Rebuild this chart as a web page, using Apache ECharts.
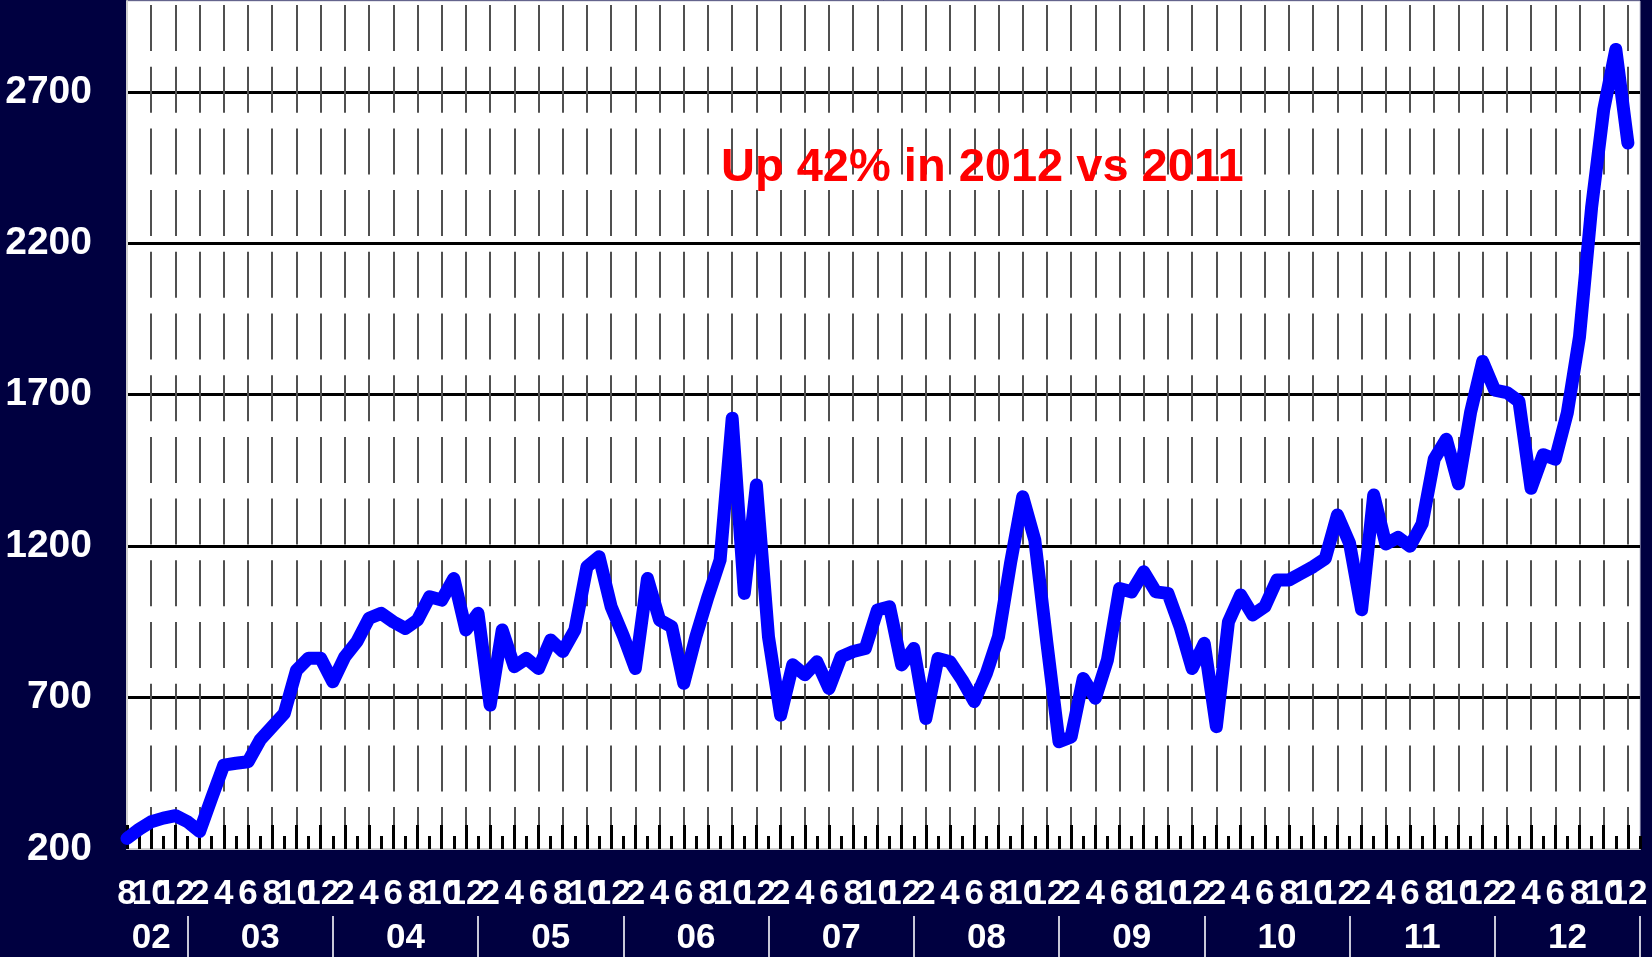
<!DOCTYPE html>
<html>
<head>
    <meta charset="utf-8">
    <title>index</title>
    <style>
        html, body { margin: 0; padding: 0; background: #000040; }
        #container { width: 1652px; height: 957px; }
    </style>
</head>
<body>
    <div id="container"></div>
</body>
<script src="https://cdn.jsdelivr.net/npm/echarts@6/dist/echarts.min.js"></script>
<script type="text/javascript">
    var dom = document.getElementById("container");
    var myChart = echarts.init(dom);

    // monthly values, Aug 2002 .. Dec 2012
    var values = [
        235, 265, 290, 302, 310,                                   // 2002 (8-12)
        290, 258, 369, 477, 483, 488, 560, 604, 648, 790, 830, 830, // 2003
        752, 835, 885, 962, 978, 950, 928, 956, 1033, 1022, 1093, 923, // 2004
        978, 675, 923, 802, 829, 796, 890, 852, 923, 1132, 1165, 1000, // 2005
        904, 796, 1093, 956, 934, 747, 901, 1033, 1154, 1622, 1044, 1402, // 2006
        900, 642, 808, 775, 818, 730, 835, 852, 862, 989, 1000, 808, // 2007
        862, 631, 829, 818, 758, 687, 780, 901, 1145, 1363, 1220, 880, // 2008
        554, 570, 763, 698, 824, 1060, 1049, 1115, 1049, 1044, 934, 796, // 2009
        879, 604, 950, 1039, 973, 1000, 1088, 1088, 1110, 1132, 1159, 1303, // 2010
        1210, 990, 1369, 1207, 1229, 1200, 1274, 1487, 1553, 1406, 1641, 1810, // 2011
        1715, 1707, 1678, 1391, 1502, 1487, 1641, 1891, 2318, 2641, 2840, 2531  // 2012
    ];
    var years = ['02', '03', '04', '05', '06', '07', '08', '09', '10', '11', '12'];
    var startMonth = 8;
    var yTicks = [200, 700, 1200, 1700, 2200, 2700];
    var note = 'Up 42% in 2012 vs 2011';

    // categories: one per month, plus Jan 13 as right edge
    var cats = [];
    years.forEach(function (y, yi) {
        for (var m = (yi === 0 ? startMonth : 1); m <= 12; m++) {
            cats.push({ y: y, m: m });
        }
    });
    cats.push({ y: '13', m: 1 });
    var catNames = cats.map(function (c) { return c.y + '-' + c.m; });

    var font = 'Liberation Sans';

    function monthOf(idx) { return cats[idx].m; }

    var monthLabel = {
        formatter: function (v, idx) { return String(monthOf(idx)); },
        showMinLabel: true,
        showMaxLabel: true,
        hideOverlap: false,
        color: '#fff',
        fontFamily: font,
        fontWeight: 'bold',
        fontSize: 35,
        margin: 28
    };

    option = {
        backgroundColor: '#000040',
        animation: false,
        grid: {
            left: 127,
            right: 12,
            top: 1,
            bottom: 108,
            outerBoundsMode: 'none',
            show: true,
            backgroundColor: '#ffffff',
            borderColor: '#c8c8d8',
            borderWidth: 1
        },
        title: {
            text: note,
            left: 721,
            top: 145,
            textStyle: {
                color: '#ff0000',
                fontFamily: font,
                fontWeight: 'bold',
                fontSize: 47
            },
            padding: 0
        },
        xAxis: [{
            // months: short ticks, labels 2/6/10, dashed grid
            type: 'category',
            data: catNames,
            boundaryGap: false,
            position: 'bottom',
            axisLine: { show: true, lineStyle: { color: '#d0d0d0', width: 2 } },
            axisTick: {
                show: true, inside: true, length: 13, interval: 0,
                lineStyle: { color: '#000', width: 3 }
            },
            axisLabel: Object.assign({
                interval: function (idx) { return monthOf(idx) % 4 === 2; }
            }, monthLabel),
            splitLine: {
                show: true,
                interval: function (idx) { return idx > 0 && monthOf(idx) % 2 === 0; },
                lineStyle: { color: '#505050', width: 2, type: [46, 15.7], dashOffset: 57.7 }
            }
        }, {
            // long ticks every 2 months, labels 4/8/12
            type: 'category',
            data: catNames,
            boundaryGap: false,
            position: 'bottom',
            axisLine: { show: false },
            axisTick: {
                show: true, inside: true, length: 24,
                interval: function (idx) { return monthOf(idx) % 2 === 0; },
                lineStyle: { color: '#000', width: 3 }
            },
            axisLabel: Object.assign({
                interval: function (idx) { return monthOf(idx) % 4 === 0; }
            }, monthLabel),
            splitLine: { show: false }
        }, {
            // years with separators at January
            type: 'category',
            data: catNames,
            boundaryGap: false,
            position: 'bottom',
            offset: 67,
            axisLine: { show: false },
            axisTick: {
                show: true, inside: false, length: 41,
                interval: function (idx) { return idx > 0 && monthOf(idx) === 1; },
                lineStyle: { color: '#c8c8d8', width: 2 }
            },
            axisLabel: {
                interval: function (idx) {
                    var c = cats[idx];
                    return (c.y === years[0] && c.m === 10) || (c.y !== years[0] && c.m === 7 && c.y !== '13');
                },
                formatter: function (v, idx) { return cats[idx].y; },
                color: '#fff',
                fontFamily: font,
                fontWeight: 'bold',
                fontSize: 35,
                margin: 5
            },
            splitLine: { show: false }
        }],
        yAxis: {
            type: 'value',
            min: yTicks[0],
            max: 3000,
            interval: 500,
            axisLine: { show: true, lineStyle: { color: '#d0d0d0', width: 2 } },
            axisTick: { show: false },
            axisLabel: {
                showMaxLabel: false,
                formatter: function (v) { return String(v); },
                color: '#fff',
                fontFamily: font,
                fontWeight: 'bold',
                fontSize: 39,
                margin: 35
            },
            splitLine: {
                show: true,
                showMinLine: false,
                showMaxLine: false,
                lineStyle: { color: '#000', width: 3 }
            }
        },
        series: [{
            type: 'line',
            data: values,
            showSymbol: false,
            symbol: 'none',
            z: 5,
            lineStyle: { color: '#0000ff', width: 13, cap: 'round', join: 'round' }
        }]
    };
    if (option && typeof option === "object") {
        myChart.setOption(option, true);
    };
</script>
</html>
